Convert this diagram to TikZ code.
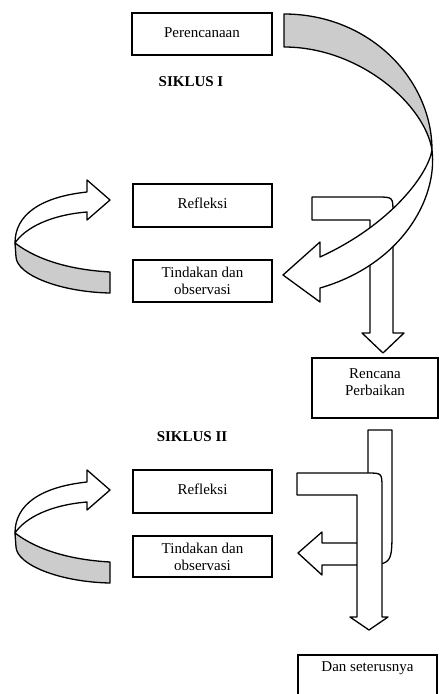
\documentclass[tikz,border=0pt]{standalone}
\usepackage{fontspec}
\setmainfont{Liberation Serif}
\definecolor{ribbon}{RGB}{204,204,204}
\begin{document}
\begin{tikzpicture}[x=1pt,y=-1pt,
  box/.style={draw, line width=1.6pt, inner sep=0pt, font=\fontsize{15}{17}\selectfont, align=center},
  lbl/.style={inner sep=0pt, font=\fontsize{15}{17}\selectfont, align=center},
  ttl/.style={inner sep=0pt, font=\fontsize{15}{17}\selectfont\bfseries},
  arr/.style={draw, line width=1.3pt, fill=white, line join=round},
  shade/.style={draw, line width=1.3pt, fill=ribbon, line join=round}]
\useasboundingbox (0,0) rectangle (441,694);

% ---------- boxes ----------
\node[box, minimum width=140pt, minimum height=42pt] (per) at (202,34) {Perencanaan\strut};
\node[box, minimum width=139pt, minimum height=43pt] (ref1) at (202.5,205.5) {Refleksi\strut};
\node[box, minimum width=139pt, minimum height=42pt] (tin1) at (202.5,281) {Tindakan dan\\observasi};
\node[box, minimum width=126pt, minimum height=60pt] (rp) at (375,388) {};
\node[lbl] (rpt) at (375,382) {Rencana\\Perbaikan};
\node[box, minimum width=139pt, minimum height=43pt] (ref2) at (202.5,491.5) {Refleksi\strut};
\node[box, minimum width=139pt, minimum height=41pt] (tin2) at (202.5,556.5) {Tindakan dan\\observasi};
\node[box, minimum width=139pt, minimum height=50pt] (dan) at (367.5,680) {};
\node[lbl] (dant) at (367.5,668) {Dan seterusnya};

\node[ttl] (s1) at (191,82) {SIKLUS I};
\node[ttl] (s2) at (192,437) {SIKLUS II};

% ---------- cycle I: bent arrow from Refleksi to Rencana Perbaikan ----------
\draw[arr] (312,197) -- (377,197) .. controls (393,197) .. (393,213) -- (393,333)
  -- (404,333) -- (383,353) -- (362,333) -- (370,333) -- (370,220) -- (312,220) -- cycle;

% ---------- cycle I: big curved arrow Perencanaan -> Tindakan ----------
\draw[shade] (284,14) .. controls (370,14) and (432,80) .. (432,150)
  .. controls (425,105) and (360,47) .. (284,47) -- cycle;
\draw[arr] (432,150) .. controls (428,175) and (390,225) .. (320,257)
  -- (320,242) -- (283,275) -- (320,302) -- (320,288)
  .. controls (400,265) and (438,200) .. (432,150) -- cycle;

% ---------- left loop arrows ----------
\foreach \dy in {0,290}{
  \begin{scope}[shift={(0,\dy)}]
    \draw[arr] (15,243) .. controls (15,215) and (40,197) .. (87,192)
      -- (87,180) -- (110,200) -- (87,220) -- (87,212)
      .. controls (50,215) and (25,228) .. (15,243) -- cycle;
    \draw[shade] (15,243) .. controls (40,262) and (75,270) .. (110,272)
      -- (110,293) .. controls (60,292) and (17,275) .. (16,257) -- cycle;
  \end{scope}
}

% ---------- cycle II: arrow from Rencana Perbaikan to Tindakan ----------
\draw[arr] (368,430) -- (392,430) -- (392,530) .. controls (392,565) .. (357,565)
  -- (322,565) -- (322,575) -- (298,553) -- (322,532) -- (322,543) -- (368,543) -- cycle;

% ---------- cycle II: bent arrow from Refleksi to Dan seterusnya ----------
\draw[arr] (297,473) -- (367,473) .. controls (382,473) .. (382,488) -- (382,617)
  -- (388,617) -- (369,630) -- (350,617) -- (357,617) -- (357,495) -- (297,495) -- cycle;
\end{tikzpicture}
\end{document}
